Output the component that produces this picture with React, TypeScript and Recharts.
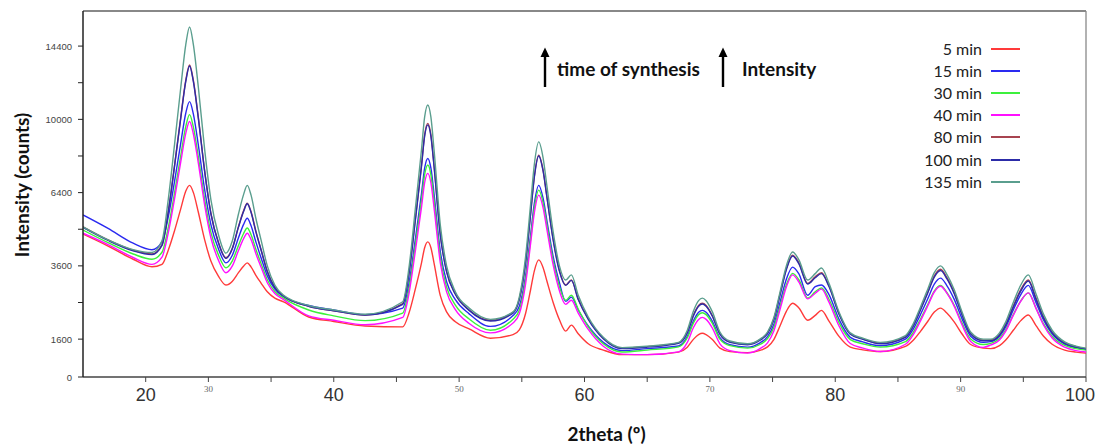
import React from 'react';
import { LineChart, Line, XAxis, YAxis, ReferenceLine, Legend } from 'recharts';

// 2theta positions (degrees)
const angles = [
  20, 22, 24, 25.5, 26.3, 26.8, 27.3, 27.8, 28.2, 28.5, 28.8, 29.2, 29.7, 30.2, 30.8, 31.4,
  31.9, 32.4, 32.8, 33.1, 33.4, 33.8, 34.2, 34.7, 35.3, 36, 38, 40, 42.5, 45.5, 46.0, 46.5,
  47.0, 47.25, 47.5, 47.75, 48.0, 48.5, 49.0, 49.7, 50.8, 52.5, 54.3, 54.8, 55.3, 55.7, 56.0,
  56.35, 56.7, 57.0, 57.5, 58.0, 58.5, 58.95, 59.5, 60.3, 61.5, 63.0, 65, 67.5, 68.2, 68.7,
  69.1, 69.4, 69.7, 70.2, 70.8, 71.6, 73.0, 74.0, 74.6, 75.1, 75.6, 76.1, 76.6, 77.1, 77.8,
  78.4, 78.9, 79.5, 80.3, 81.2, 82.2, 83.6, 85.6, 86.2, 86.8, 87.4, 87.9, 88.4, 88.9, 89.5,
  90.1, 90.8, 91.8, 92.4, 93.1, 93.6, 94.2, 94.8, 95.4, 96.0, 96.6, 97.3, 98.3, 99.2, 100,
];

const min5 = [
  4720, 4280, 3820, 3570, 3650, 4130, 4840, 5720, 6470, 6720, 6410, 5570, 4510, 3760, 3270, 3000,
  3110, 3380, 3590, 3700, 3570, 3290, 3060, 2800, 2620, 2520, 2120, 2010, 1900, 1880, 2220, 2870,
  3700, 4220, 4430, 4220, 3690, 2690, 2250, 2000, 1830, 1620, 1700, 1810, 2210, 2860, 3440,
  3800, 3540, 3120, 2500, 2050, 1780, 1920, 1720, 1500, 1370, 1280, 1280, 1330, 1430, 1600,
  1700, 1730, 1700, 1590, 1410, 1340, 1320, 1365, 1435, 1590, 1905, 2265, 2480, 2355, 2040,
  2160, 2290, 2020, 1660, 1430, 1375, 1340, 1445, 1570, 1775, 2020, 2245, 2350, 2220, 1995,
  1720, 1485, 1410, 1400, 1460, 1580, 1800, 2030, 2170, 1915, 1670, 1490, 1370, 1330, 1310,
];

const min15 = [
  5460, 4930, 4380, 4150, 4430, 5380, 6890, 8760, 10350, 10990, 10300, 8640, 6540, 5080, 4180, 3700,
  3950, 4580, 5080, 5330, 5040, 4410, 3870, 3280, 2880, 2660, 2420, 2300, 2180, 2350, 3050, 4500,
  6360, 7520, 7980, 7510, 6340, 4080, 3100, 2580, 2200, 1890, 2155, 2400, 3280, 4680, 5940,
  6720, 6150, 5240, 3910, 3070, 2530, 2650, 2300, 1900, 1530, 1360, 1400, 1455, 1660, 2030,
  2240, 2290, 2240, 2010, 1630, 1480, 1430, 1520, 1655, 1935, 2510, 3175, 3560, 3340, 2700,
  2950, 3000, 2720, 2060, 1640, 1540, 1460, 1600, 1815, 2185, 2620, 3025, 3210, 2985, 2580,
  2085, 1665, 1530, 1545, 1665, 1880, 2300, 2720, 2990, 2510, 2050, 1715, 1495, 1420, 1385,
];

const min30 = [
  4870, 4400, 4000, 3820, 4060, 4960, 6380, 8130, 9620, 10260, 9590, 8050, 6120, 4780, 3970, 3540,
  3760, 4300, 4730, 4950, 4700, 4150, 3680, 3160, 2810, 2620, 2300, 2150, 2030, 2220, 2890, 4290,
  6090, 7210, 7660, 7200, 6070, 3880, 2940, 2430, 2070, 1800, 2065, 2300, 3160, 4520, 5750,
  6510, 5960, 5070, 3770, 2950, 2560, 2700, 2320, 1880, 1500, 1330, 1370, 1435, 1630, 1980,
  2180, 2230, 2180, 1960, 1600, 1460, 1410, 1485, 1610, 1865, 2400, 3010, 3360, 3160, 2620,
  2800, 2910, 2590, 1980, 1590, 1500, 1430, 1545, 1740, 2070, 2460, 2820, 2985, 2780, 2420,
  1980, 1605, 1485, 1510, 1615, 1810, 2180, 2545, 2770, 2360, 1955, 1660, 1465, 1400, 1370,
];

const min40 = [
  4750, 4330, 3880, 3650, 3890, 4760, 6130, 7820, 9260, 9880, 9230, 7750, 5880, 4580, 3790, 3380,
  3590, 4120, 4540, 4750, 4520, 4000, 3560, 3070, 2750, 2580, 2150, 2040, 1930, 2110, 2750, 4080,
  5780, 6840, 7270, 6830, 5760, 3700, 2800, 2310, 1960, 1740, 1970, 2200, 3030, 4360, 5550,
  6290, 5750, 4890, 3630, 2830, 2450, 2560, 2220, 1820, 1450, 1290, 1280, 1335, 1530, 1870,
  2060, 2110, 2060, 1850, 1500, 1360, 1310, 1400, 1520, 1780, 2320, 2940, 3310, 3090, 2600,
  2760, 2880, 2510, 1900, 1505, 1410, 1340, 1490, 1690, 2025, 2425, 2795, 2965, 2760, 2390,
  1935, 1550, 1425, 1475, 1580, 1780, 2160, 2540, 2770, 2350, 1930, 1625, 1430, 1360, 1330,
];

const min80 = [
  4990, 4500, 4130, 4000, 4320, 5610, 7640, 10140, 12260, 13190, 12250, 10110, 7410, 5540, 4420, 3870,
  4190, 5000, 5620, 5950, 5600, 4810, 4160, 3430, 2940, 2690, 2400, 2280, 2170, 2470, 3370, 5260,
  7670, 9180, 9780, 9170, 7650, 4710, 3430, 2740, 2300, 2040, 2240, 2600, 3720, 5520, 7140,
  8140, 7410, 6240, 4530, 3450, 3000, 3150, 2600, 2080, 1620, 1410, 1440, 1520, 1760, 2180,
  2420, 2480, 2420, 2150, 1720, 1540, 1490, 1590, 1740, 2070, 2740, 3510, 3960, 3700, 3050,
  3250, 3380, 2980, 2210, 1720, 1605, 1510, 1655, 1900, 2325, 2820, 3280, 3490, 3230, 2770,
  2210, 1730, 1575, 1580, 1705, 1945, 2405, 2865, 3150, 2635, 2130, 1760, 1525, 1440, 1400,
];

const min100 = [
  4970, 4480, 4110, 3980, 4300, 5580, 7600, 10080, 12190, 13120, 12180, 10050, 7370, 5510, 4400, 3850,
  4170, 4980, 5590, 5920, 5570, 4780, 4140, 3410, 2920, 2680, 2400, 2280, 2170, 2450, 3350, 5220,
  7610, 9100, 9700, 9090, 7590, 4680, 3410, 2730, 2290, 2020, 2220, 2580, 3700, 5490, 7100,
  8100, 7370, 6210, 4500, 3430, 2990, 3140, 2580, 2060, 1610, 1400, 1430, 1510, 1740, 2160,
  2400, 2460, 2400, 2140, 1710, 1530, 1480, 1575, 1725, 2050, 2715, 3475, 3930, 3665, 3030,
  3220, 3350, 2955, 2190, 1710, 1595, 1500, 1640, 1885, 2300, 2790, 3240, 3450, 3195, 2740,
  2185, 1715, 1565, 1565, 1690, 1925, 2375, 2825, 3120, 2600, 2105, 1745, 1510, 1430, 1395,
];

const min135 = [
  4990, 4500, 4150, 4050, 4470, 6100, 8670, 11830, 14510, 15680, 14510, 11830, 8440, 6100, 4700, 4030,
  4450, 5500, 6300, 6720, 6300, 5300, 4500, 3600, 3000, 2700, 2420, 2300, 2190, 2520, 3540, 5680,
  8420, 10130, 10800, 10120, 8400, 5060, 3600, 2800, 2350, 2060, 2250, 2650, 3900, 5900, 7700,
  8810, 8000, 6700, 4800, 3600, 3150, 3310, 2700, 2120, 1640, 1420, 1450, 1530, 1800, 2280,
  2550, 2620, 2550, 2250, 1760, 1560, 1500, 1600, 1760, 2100, 2800, 3600, 4070, 3800, 3150,
  3350, 3530, 3050, 2250, 1740, 1620, 1530, 1680, 1940, 2380, 2900, 3380, 3600, 3330, 2850,
  2260, 1760, 1600, 1600, 1740, 2000, 2500, 3000, 3310, 2750, 2200, 1800, 1540, 1450, 1410,
];

const seriesKeys = ['m5', 'm15', 'm30', 'm40', 'm80', 'm100', 'm135'];
const seriesNames = ['5 min', '15 min', '30 min', '40 min', '80 min', '100 min', '135 min'];
const seriesColors = ['#ff3a3a', '#2a2af0', '#3cf03c', '#ff10ff', '#a84450', '#2c2ca8', '#5a9e8e'];
const seriesValues = [min5, min15, min30, min40, min80, min100, min135];

const data = angles.map((a, i) => {
  const row: Record<string, number> = { angle: a };
  seriesKeys.forEach((k, j) => {
    row[k] = seriesValues[j][i];
  });
  return row;
});

const xTicks = [25, 30, 35, 40, 45, 50, 55, 60, 65, 70, 75, 80, 85, 90, 95, 100];
const xBigLabels: Record<number, string> = { 25: '20', 40: '40', 60: '60', 80: '80', 100: '100' };
const xSmallLabels: Record<number, string> = { 30: '30', 50: '50', 70: '70', 90: '90' };
const yTicks = [880, 1600, 2500, 3600, 4900, 6400, 8100, 10000, 12100, 14400];
const yLabels: Record<number, string> = { 880: '0', 1600: '1600', 3600: '3600', 6400: '6400', 10000: '10000', 14400: '14400' };
const yDomain = [880, 16790];
const xDomain = [20, 100];

const XTick = (props: any) => {
  const { x, y, payload } = props;
  const v = payload.value;
  if (xBigLabels[v]) {
    const isLast = v === 100;
    return (
      <text
        x={isLast ? x + 9 : x}
        y={y}
        dy={17}
        textAnchor={isLast ? 'end' : 'middle'}
        fontSize={18}
        fontFamily="'Liberation Sans', Arial, sans-serif"
        fill="#333"
      >
        {xBigLabels[v]}
      </text>
    );
  }
  if (xSmallLabels[v]) {
    return (
      <text x={x} y={y} dy={8} textAnchor="middle" fontSize={9} fontFamily="'Liberation Serif', serif" fill="#666">
        {xSmallLabels[v]}
      </text>
    );
  }
  return <g />;
};

const YTick = (props: any) => {
  const { x, y, payload } = props;
  const label = yLabels[payload.value];
  if (!label) return <g />;
  return (
    <text x={x} y={y} dy={3.5} textAnchor="end" fontSize={9.5} fontFamily="'Liberation Sans', Arial, sans-serif" fill="#444">
      {label}
    </text>
  );
};

const YTitle = (props: any) => {
  const vb = props.viewBox || { x: 0, y: 11, width: 83, height: 366 };
  const cx = vb.x + 21;
  const cy = vb.y + vb.height / 2 - 9;
  return (
    <text
      x={cx}
      y={cy}
      transform={`rotate(-90 ${cx} ${cy})`}
      textAnchor="middle"
      dominantBaseline="central"
      fontSize={19}
      fontWeight={700}
      fontFamily="Lato, 'Open Sans', sans-serif"
      fill="#111"
    >
      Intensity (counts)
    </text>
  );
};

const XTitle = (props: any) => {
  const vb = props.viewBox || { x: 83, y: 377, width: 1003, height: 71 };
  const cx = vb.x + vb.width / 2 + 22;
  const by = vb.y + 64;
  return (
    <text x={cx} y={by} textAnchor="middle" fontSize={19} fontWeight={700} fontFamily="Lato, 'Open Sans', sans-serif" fill="#111">
      2theta (º)
    </text>
  );
};

const LegendContent = () => (
  <div style={{ position: 'relative', width: 150, height: 160, fontFamily: 'Lato, sans-serif', fontSize: 16, color: '#222' }}>
    {seriesNames.map((n, i) => (
      <div key={n} style={{ position: 'absolute', left: 0, top: i * 22.1, height: 22, width: 150, display: 'flex', alignItems: 'center' }}>
        <span style={{ width: 102, textAlign: 'right', lineHeight: '22px', whiteSpace: 'nowrap' }}>{n}</span>
        <span style={{ display: 'inline-block', marginLeft: 9, width: 29, height: 2, background: seriesColors[i] }} />
      </div>
    ))}
  </div>
);

export default function App() {
  return (
    <div style={{ position: 'absolute', left: 0, top: 0, width: 1096, height: 448, background: '#fff' }}>
      <LineChart width={1096} height={448} data={data} margin={{ top: 11, right: 10, bottom: 0, left: 0 }}>
        <XAxis
          dataKey="angle"
          type="number"
          domain={xDomain}
          ticks={xTicks}
          interval={0}
          allowDataOverflow
          height={71}
          tickSize={5}
          tickMargin={2}
          tick={(p: any) => <XTick {...p} />}
          axisLine={{ stroke: '#444', strokeWidth: 1.5 }}
          tickLine={{ stroke: '#444' }}
          label={(p: any) => <XTitle {...p} />}
        />
        <YAxis
          type="number"
          scale="sqrt"
          domain={yDomain}
          ticks={yTicks}
          interval={0}
          allowDataOverflow
          width={83}
          tickSize={5}
          tickMargin={6}
          tick={(p: any) => <YTick {...p} />}
          axisLine={{ stroke: '#222', strokeWidth: 1.5 }}
          tickLine={{ stroke: '#222' }}
          label={(p: any) => <YTitle {...p} />}
        />
        <ReferenceLine x={100} stroke="#999" strokeWidth={1.5} />
        <ReferenceLine y={16790} stroke="#888" strokeWidth={2} />
        {seriesKeys.map((k, i) => (
          <Line
            key={k}
            dataKey={k}
            name={seriesNames[i]}
            type="monotone"
            stroke={seriesColors[i]}
            strokeWidth={1.4}
            dot={false}
            isAnimationActive={false}
          />
        ))}
        <Legend
          layout="vertical"
          align="center"
          verticalAlign="middle"
          wrapperStyle={{ left: 880, top: 38, width: 150, height: 160 }}
          content={() => <LegendContent />}
        />
      </LineChart>
      <svg
        width={1096}
        height={448}
        style={{ position: 'absolute', left: 0, top: 0, pointerEvents: 'none' }}
      >
        <line x1={545} y1={87} x2={545} y2={54} stroke="#000" strokeWidth={2.4} />
        <polygon points="540.5,57 545,47.5 549.5,57" fill="#000" />
        <line x1={723} y1={87} x2={723} y2={54} stroke="#000" strokeWidth={2.4} />
        <polygon points="718.5,57 723,47.5 727.5,57" fill="#000" />
        <text x={557} y={76} fontSize={19} fontWeight={700} fontFamily="Lato, 'Open Sans', sans-serif" fill="#111">
          time of synthesis
        </text>
        <text x={742} y={76} fontSize={19} fontWeight={700} fontFamily="Lato, 'Open Sans', sans-serif" fill="#111">
          Intensity
        </text>
      </svg>
    </div>
  );
}
